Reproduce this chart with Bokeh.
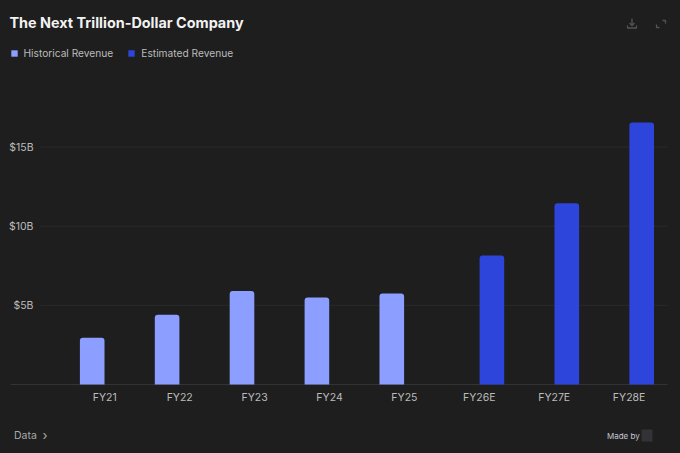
from bokeh.embed import file_html
from bokeh.resources import INLINE
from bokeh.plotting import figure
from bokeh.models import (ColumnDataSource, Range1d, FixedTicker, Label, Legend, LegendItem,
                          PolyAnnotation, BoxAnnotation)

categories = ["FY21", "FY22", "FY23", "FY24", "FY25", "FY26E", "FY27E", "FY28E"]
historical = [2.95, 4.4, 5.9, 5.5, 5.75, None, None, None]
estimated = [None, None, None, None, None, 8.15, 11.45, 16.55]
y_ticks = [0, 5, 10, 15]
y_labels = {0: "", 5: "$5B", 10: "$10B", 15: "$15B"}
title = "The Next Trillion-Dollar Company"
series_names = ["Historical Revenue", "Estimated Revenue"]

BG = "#1e1e1e"
HIST = "#8c9eff"
EST = "#2e45db"
TXT = "#bcbcbc"
FONT = "Inter"

W, H = 680, 453
base_y = 384
px_per_unit = 15.83
step = 74.9
c0 = 104.3      # px of first category centre from the canvas' left

def px_to_x(px):
    return (px - c0) / step

p = figure(width=W, height=H, output_backend="svg", toolbar_location=None,
           x_range=Range1d(px_to_x(0), px_to_x(W)),
           y_range=Range1d(-(H - base_y) / px_per_unit, base_y / px_per_unit),
           min_border_left=0, min_border_right=0, min_border_top=0, min_border_bottom=0,
           background_fill_color=BG, border_fill_color=BG, outline_line_color=None)

xs = list(range(len(categories)))
offset = 12.6 / step
bw = 24.6 / step
src = ColumnDataSource(dict(
    hx=[x - offset for x in xs], ex=[x + offset for x in xs],
    hist=[v if v is not None else float("nan") for v in historical],
    est=[v if v is not None else float("nan") for v in estimated]))

p.xgrid.visible = False
p.ygrid.visible = False
gy = [t for t in y_ticks if t > 0]
p.segment(x0=[px_to_x(40)] * len(gy), x1=[px_to_x(667)] * len(gy), y0=gy, y1=gy, line_color="#2a2a2a", line_width=1)
p.segment(x0=[px_to_x(10)], x1=[px_to_x(667)], y0=[0], y1=[0], line_color="#333333", line_width=1)

r1 = p.vbar(x="hx", top="hist", width=bw, bottom=0, source=src, fill_color=HIST, line_color=None,
            border_radius={"top_left": 3, "top_right": 3, "bottom_left": 0, "bottom_right": 0})
r2 = p.vbar(x="ex", top="est", width=bw, bottom=0, source=src, fill_color=EST, line_color=None,
            border_radius={"top_left": 3, "top_right": 3, "bottom_left": 0, "bottom_right": 0})

p.yaxis.fixed_location = px_to_x(44)
p.yaxis.ticker = FixedTicker(ticks=y_ticks)
p.yaxis.major_label_overrides = y_labels
p.yaxis.axis_line_color = None
p.yaxis.major_tick_line_color = None
p.yaxis.minor_tick_line_color = None
p.yaxis.major_label_text_color = TXT
p.yaxis.major_label_text_font = FONT
p.yaxis.major_label_text_font_size = "10.5px"
p.yaxis.major_label_standoff = 5

p.xaxis.fixed_location = 0
p.xaxis.ticker = FixedTicker(ticks=xs)
p.xaxis.major_label_overrides = dict(zip(xs, categories))
p.xaxis.axis_line_color = None
p.xaxis.major_tick_line_color = None
p.xaxis.minor_tick_line_color = None
p.xaxis.major_label_text_color = TXT
p.xaxis.major_label_text_font = FONT
p.xaxis.major_label_text_font_size = "10.5px"
p.xaxis.major_label_standoff = 0

legend = Legend(items=[LegendItem(label=series_names[0], renderers=[r1]),
                       LegendItem(label=series_names[1], renderers=[r2])],
                orientation="horizontal", location=(9.5, H - 59), level="overlay",
                background_fill_alpha=0, border_line_color=None,
                glyph_width=8, glyph_height=8, label_text_color=TXT, label_text_font=FONT,
                label_text_font_size="10.2px", spacing=14, label_standoff=6, padding=0, margin=0)
p.add_layout(legend, "center")

def text(t, x, y, size, color, style="normal", align="left"):
    p.add_layout(Label(x=x, y=y, x_units="canvas", y_units="canvas", text=t, level="overlay",
                       text_font=FONT, text_font_size=size, text_color=color,
                       text_font_style=style, text_align=align, text_baseline="middle"))

text(title, 9, 22, "14.4px", "#f2f2f2", "bold")
text("Data", 13.5, 435, "10.5px", "#a8a8a8")
text("›", 42, 434, "13px", "#a8a8a8")
text("Made by", 606.5, 435, "8px", "#c4c6d4")

p.add_layout(BoxAnnotation(left=641, right=652, top=429, bottom=441,
                           left_units="canvas", right_units="canvas", top_units="canvas", bottom_units="canvas",
                           fill_color="#333337", fill_alpha=1, line_color=None, level="overlay"))

def icon(points):
    xs_ = [a for a, _ in points]
    ys_ = [b for _, b in points]
    p.add_layout(PolyAnnotation(xs=xs_, ys=ys_, xs_units="canvas", ys_units="canvas",
                                fill_alpha=0, line_color="#d2d2d2", line_width=1.3, level="overlay"))

# download icon
icon([(631.5, 18), (631.5, 25), (629, 22.5), (631.5, 25), (634, 22.5), (631.5, 25)])
icon([(627, 25), (627, 27.5), (636, 27.5), (636, 25), (636, 27.5), (627, 27.5)])
# expand icon
icon([(656, 24), (656, 27), (659, 27), (656, 27)])
icon([(662, 20), (665, 20), (665, 23), (665, 20)])

html = file_html(p, INLINE)
html = html.replace("</head>", f"<style>html,body{{background:{BG};}}</style></head>", 1)
open("out.html", "w").write(html)
